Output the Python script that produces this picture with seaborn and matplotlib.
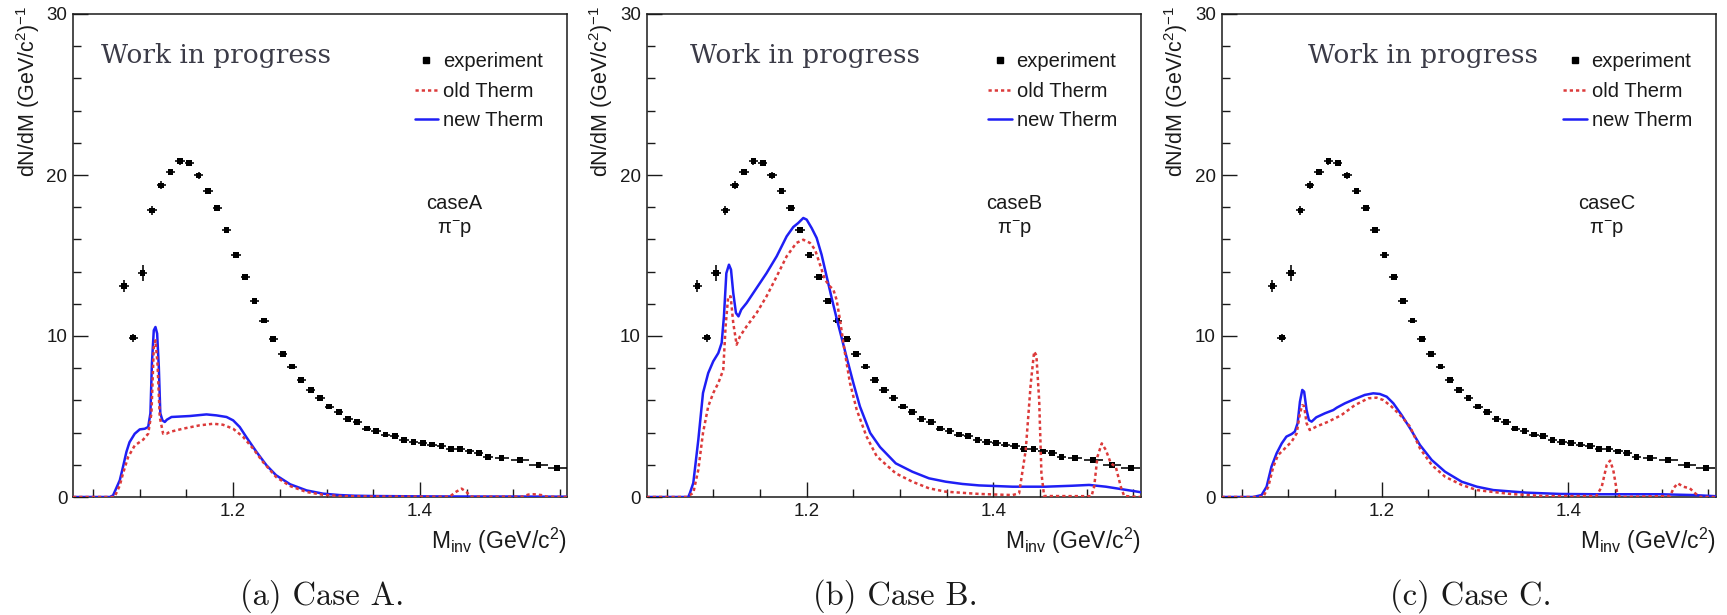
import matplotlib
matplotlib.use("Agg")
import matplotlib.pyplot as plt
import matplotlib.transforms as mtransforms
from matplotlib.lines import Line2D
import seaborn as sns

# ---------------- data ----------------
# measured pi- p invariant-mass spectrum (same in every panel)
exp_x = [1.083, 1.093, 1.103, 1.113, 1.123, 1.133, 1.143, 1.153, 1.163, 1.173,
         1.183, 1.193, 1.203, 1.213, 1.223, 1.233, 1.243, 1.253, 1.263, 1.273,
         1.283, 1.293, 1.303, 1.313, 1.323, 1.333, 1.343, 1.353, 1.363, 1.373,
         1.383, 1.393, 1.403, 1.413, 1.423, 1.433, 1.443, 1.453, 1.463, 1.473,
         1.4875, 1.507, 1.527, 1.547]
exp_y = [13.1, 9.9, 13.9, 17.8, 19.35, 20.2, 20.85, 20.75, 19.97, 19.0,
         17.95, 16.57, 15.03, 13.68, 12.17, 10.96, 9.81, 8.88, 8.1, 7.25,
         6.63, 6.13, 5.62, 5.3, 4.83, 4.65, 4.25, 4.1, 3.88, 3.77,
         3.53, 3.42, 3.35, 3.26, 3.17, 3.0, 3.0, 2.83, 2.75, 2.49,
         2.4, 2.3, 1.97, 1.79]
exp_yerr = [0.35, 0.25, 0.5, 0.3, 0.25, 0.2, 0.2, 0.2, 0.2, 0.18,
            0.18, 0.17, 0.16, 0.15, 0.15, 0.14, 0.14, 0.13, 0.13, 0.12,
            0.12, 0.12, 0.11, 0.11, 0.1, 0.1, 0.1, 0.1, 0.1, 0.1,
            0.1, 0.1, 0.1, 0.1, 0.1, 0.1, 0.1, 0.1, 0.1, 0.1,
            0.09, 0.08, 0.08, 0.08]
exp_xerr = [0.005] * 39 + [0.005, 0.0075, 0.01, 0.01, 0.01]

# case A
a_new_x = [1.0285, 1.068, 1.0714, 1.0786, 1.082, 1.0857, 1.089, 1.0946, 1.1, 1.1054,
           1.109, 1.1114, 1.113, 1.115, 1.1168, 1.1186, 1.1204, 1.122, 1.1243, 1.1268,
           1.129, 1.134, 1.1536, 1.1714, 1.182, 1.1929, 1.2, 1.207, 1.214, 1.225,
           1.2357, 1.246, 1.261, 1.2786, 1.296, 1.314, 1.33, 1.35, 1.40, 1.45, 1.50, 1.5575]
a_new_y = [0, 0, 0.1, 1.04, 1.86, 2.8, 3.4, 3.93, 4.2, 4.24,
           4.35, 5.2, 8.3, 10.35, 10.56, 10.15, 8.07, 5.2, 4.76, 4.66,
           4.8, 4.97, 5.03, 5.13, 5.07, 4.97, 4.76, 4.35, 3.73, 2.8,
           1.97, 1.35, 0.79, 0.41, 0.21, 0.12, 0.08, 0.06, 0.04, 0.03, 0.03, 0.02]
a_old_x = [1.0285, 1.073, 1.0786, 1.082, 1.0875, 1.0946, 1.1036, 1.109, 1.1125, 1.115,
           1.1168, 1.119, 1.1214, 1.125, 1.1286, 1.132, 1.146, 1.164, 1.1786, 1.189,
           1.2, 1.2107, 1.2214, 1.232, 1.246, 1.261, 1.2786, 1.296, 1.314, 1.35,
           1.40, 1.432, 1.438, 1.4446, 1.45, 1.455, 1.51, 1.516, 1.522, 1.53, 1.536, 1.5575]
a_old_y = [0, 0, 0.72, 1.45, 2.48, 3.2, 3.56, 3.93, 5.2, 9.3,
           9.73, 8.28, 4.97, 3.93, 3.93, 4.04, 4.24, 4.45, 4.55, 4.49,
           4.24, 3.73, 3.0, 2.17, 1.24, 0.68, 0.31, 0.14, 0.06, 0.03,
           0.02, 0.02, 0.3, 0.52, 0.3, 0.02, 0.02, 0.15, 0.17, 0.12, 0.02, 0.0]

# case B
b_new_x = [1.0285, 1.0732, 1.075, 1.0786, 1.084, 1.089, 1.0946, 1.1, 1.1054, 1.109,
           1.1114, 1.114, 1.1168, 1.119, 1.1214, 1.1243, 1.127, 1.13, 1.1357, 1.1464,
           1.157, 1.1679, 1.1786, 1.1857, 1.191, 1.1964, 1.2, 1.2054, 1.2107, 1.216,
           1.2214, 1.2268, 1.232, 1.2375, 1.243, 1.25, 1.257, 1.268, 1.2786, 1.2954,
           1.3132, 1.331, 1.349, 1.3668, 1.3846, 1.4204, 1.456, 1.4846, 1.5025, 1.5204,
           1.538, 1.5575]
b_new_y = [0, 0, 0.25, 0.87, 3.56, 6.46, 7.7, 8.43, 8.94, 9.57,
           11.2, 13.9, 14.43, 14.12, 12.67, 11.43, 11.22, 11.64, 12.05, 12.98,
           13.9, 14.95, 16.19, 16.77, 17.02, 17.33, 17.23, 16.7, 16.09, 15.05,
           13.7, 12.36, 11.12, 9.88, 8.63, 7.08, 5.63, 3.98, 3.1, 2.09,
           1.57, 1.16, 0.95, 0.81, 0.72, 0.64, 0.64, 0.7, 0.75, 0.64,
           0.48, 0.3]
b_old_x = [1.0285, 1.0714, 1.0786, 1.084, 1.089, 1.0946, 1.1, 1.1054, 1.1107, 1.1132,
           1.116, 1.1186, 1.1214, 1.125, 1.1286, 1.1357, 1.1464, 1.157, 1.1679, 1.1786,
           1.189, 1.1964, 1.2036, 1.209, 1.2143, 1.2196, 1.225, 1.2286, 1.232, 1.2357,
           1.241, 1.2464, 1.2536, 1.264, 1.275, 1.2954, 1.3132, 1.331, 1.349, 1.3846,
           1.4204, 1.4275, 1.4346, 1.44, 1.4436, 1.446, 1.449, 1.4514, 1.4543, 1.505,
           1.5079, 1.5114, 1.516, 1.5204, 1.5257, 1.531, 1.5364, 1.54, 1.5575]
b_old_y = [0, 0, 0.25, 1.7, 3.98, 5.63, 6.46, 7.08, 7.9, 10.6,
           12.46, 12.46, 10.8, 9.46, 9.98, 10.6, 11.43, 12.46, 13.7, 14.95,
           15.78, 15.98, 15.78, 15.36, 14.43, 13.5, 13.08, 12.88, 12.26, 11.0,
           8.94, 7.08, 5.42, 3.77, 2.53, 1.47, 0.95, 0.54, 0.33, 0.19,
           0.12, 0.23, 2.92, 7.06, 9.03, 8.8, 6.0, 1.47, 0.06, 0.05,
           0.64, 2.5, 3.33, 2.92, 2.09, 1.88, 0.64, 0.06, 0.0]

# case C
c_new_x = [1.0285, 1.0625, 1.0714, 1.0768, 1.082, 1.0875, 1.093, 1.098, 1.1036, 1.107,
           1.11, 1.1125, 1.115, 1.117, 1.1196, 1.1221, 1.125, 1.13, 1.1393, 1.1482,
           1.152, 1.1607, 1.1714, 1.182, 1.191, 1.198, 1.2054, 1.2125, 1.2214, 1.2304,
           1.241, 1.2536, 1.2679, 1.2857, 1.302, 1.3196, 1.355, 1.391, 1.427, 1.4625,
           1.498, 1.534, 1.5575]
c_new_y = [0, 0, 0.12, 0.64, 1.88, 2.71, 3.33, 3.75, 3.91, 4.06,
           4.58, 5.92, 6.65, 6.54, 5.4, 4.78, 4.68, 4.95, 5.2, 5.4,
           5.55, 5.82, 6.09, 6.34, 6.44, 6.4, 6.23, 5.82, 5.09, 4.27,
           3.23, 2.3, 1.57, 0.95, 0.64, 0.43, 0.27, 0.19, 0.17, 0.17,
           0.17, 0.12, 0.05]
c_old_x = [1.0285, 1.0732, 1.0786, 1.084, 1.089, 1.0964, 1.1036, 1.109, 1.1125, 1.115,
           1.117, 1.1196, 1.123, 1.13, 1.1429, 1.157, 1.1714, 1.1857, 1.1946, 1.2018,
           1.2107, 1.2214, 1.2304, 1.241, 1.2536, 1.2679, 1.2857, 1.302, 1.3375, 1.373,
           1.43, 1.4357, 1.441, 1.4446, 1.448, 1.452, 1.455, 1.509, 1.5125, 1.517,
           1.523, 1.53, 1.5357, 1.541, 1.5575]
c_old_y = [0, 0, 0.64, 1.88, 2.6, 3.02, 3.44, 3.95, 5.2, 5.7,
           5.65, 4.58, 4.16, 4.37, 4.68, 5.09, 5.71, 6.13, 6.17, 6.02,
           5.61, 4.99, 4.37, 3.02, 1.99, 1.26, 0.75, 0.43, 0.19, 0.06,
           0.06, 0.64, 1.99, 2.26, 1.68, 0.33, 0.0, 0.06, 0.54, 0.85,
           0.64, 0.54, 0.23, 0.0, 0.0]

case_names = ["caseA", "caseB", "caseC"]
captions = ["(a) Case A.", "(b) Case B.", "(c) Case C."]
legend_labels = ["experiment", "old Therm", "new Therm"]
x_major = [1.2, 1.4]
x_major_labels = ["1.2", "1.4"]
x_minor = [1.05, 1.10, 1.15, 1.25, 1.30, 1.35, 1.45, 1.50, 1.55]
y_major = [0, 10, 20, 30]
y_major_labels = ["0", "10", "20", "30"]
y_minor = [2, 4, 6, 8, 12, 14, 16, 18, 22, 24, 26, 28]

# ---------------- style ----------------
sns.set_style("white")
plt.rcParams["font.family"] = ["Liberation Sans", "DejaVu Sans"]
plt.rcParams["mathtext.fontset"] = "custom"
plt.rcParams["mathtext.rm"] = "Liberation Sans"
plt.rcParams["mathtext.it"] = "Liberation Sans:italic"

W, H = 1727, 615
fig = plt.figure(figsize=(W / 100, H / 100), dpi=100)

ax_left = [73, 646.5, 1221.5]
ax_w, ax_top, ax_bot = 494, 14, 497
wip_x = [101, 690, 1308]
text_xfrac = [0.772, 0.745, 0.78]

BLUE = "#1f1ff5"
RED = "#dc3a3a"
INK = "#1a1a1a"
DOTS = (0, (1.3, 1.2))

curves = [(a_new_x, a_new_y, a_old_x, a_old_y),
          (b_new_x, b_new_y, b_old_x, b_old_y),
          (c_new_x, c_new_y, c_old_x, c_old_y)]

for i in range(3):
    ax = fig.add_axes([ax_left[i] / W, (H - ax_bot) / H, ax_w / W, (ax_bot - ax_top) / H])
    nx, ny, ox, oy = curves[i]
    mixed = mtransforms.blended_transform_factory(ax.transAxes, ax.transData)

    # experiment: error crosses plus square markers
    ax.errorbar(exp_x, exp_y, xerr=exp_xerr, yerr=exp_yerr, fmt="none",
                ecolor="black", elinewidth=1.15, capsize=0, zorder=3)
    sns.scatterplot(x=exp_x, y=exp_y, ax=ax, marker="s", s=17, color="black",
                    edgecolor="none", linewidth=0, zorder=4)

    # model curves
    sns.lineplot(x=nx, y=ny, ax=ax, sort=False, estimator=None, color=BLUE,
                 linewidth=1.8, zorder=5)
    sns.lineplot(x=ox, y=oy, ax=ax, sort=False, estimator=None, color=RED,
                 linewidth=1.8, linestyle=DOTS, zorder=6)

    ax.set_xlim(1.0285, 1.5575)
    ax.set_ylim(0, 30)
    ax.set_xticks(x_major)
    ax.set_xticklabels(x_major_labels)
    ax.set_xticks(x_minor, minor=True)
    ax.set_yticks(y_major)
    ax.set_yticklabels(y_major_labels)
    ax.set_yticks(y_minor, minor=True)
    ax.tick_params(which="major", direction="in", length=10.5, width=1.0,
                   labelsize=13.5, pad=4, colors=INK, top=False, right=False,
                   bottom=True, left=True)
    ax.tick_params(which="minor", direction="in", length=5.5, width=1.0,
                   top=False, right=False, bottom=True, left=True, colors=INK)
    for sp in ax.spines.values():
        sp.set_color(INK)
        sp.set_linewidth(1.1)
    ax.set_xlabel("")
    ax.set_ylabel("")

    ax.text(-0.091, 1.017, r"dN/dM (GeV/c$^{2}$)$^{-1}$", transform=ax.transAxes,
            rotation=90, ha="center", va="top", fontsize=15.5, color=INK)
    ax.text(1.0, -0.091, r"M$_{\rm inv}$ (GeV/c$^{2}$)", transform=ax.transAxes,
            ha="right", va="center", fontsize=16.5, color=INK)

    ax.text(text_xfrac[i], 18.2, case_names[i], ha="center", va="center",
            fontsize=14.5, color=INK, transform=mixed)
    ax.text(text_xfrac[i], 16.6, r"π$^{-}$p", ha="center", va="center",
            fontsize=14.5, color=INK, transform=mixed)

    handles = [Line2D([], [], marker="s", linestyle="none", color="black", markersize=4),
               Line2D([], [], color=RED, linewidth=1.8, linestyle=DOTS),
               Line2D([], [], color=BLUE, linewidth=1.8)]
    ax.legend(handles, legend_labels, loc="upper left",
              bbox_to_anchor=(0.692, 0.921), frameon=False, fontsize=14.5,
              handlelength=1.15, handletextpad=0.25, labelspacing=0.52,
              borderpad=0, borderaxespad=0, labelcolor=INK)

    # overlay label
    fig.text(wip_x[i] / W, (H - 63) / H, "Work in progress", fontfamily="DejaVu Serif",
             fontsize=19, color="#3b3b47", ha="left", va="baseline")

    fig.text((ax_left[i] + ax_w / 2 + 2) / W, (H - 596) / H, captions[i],
             fontfamily="cmr10", fontsize=23.5, color=INK, ha="center", va="center")

fig.savefig("out.png", dpi=100, facecolor="white")
